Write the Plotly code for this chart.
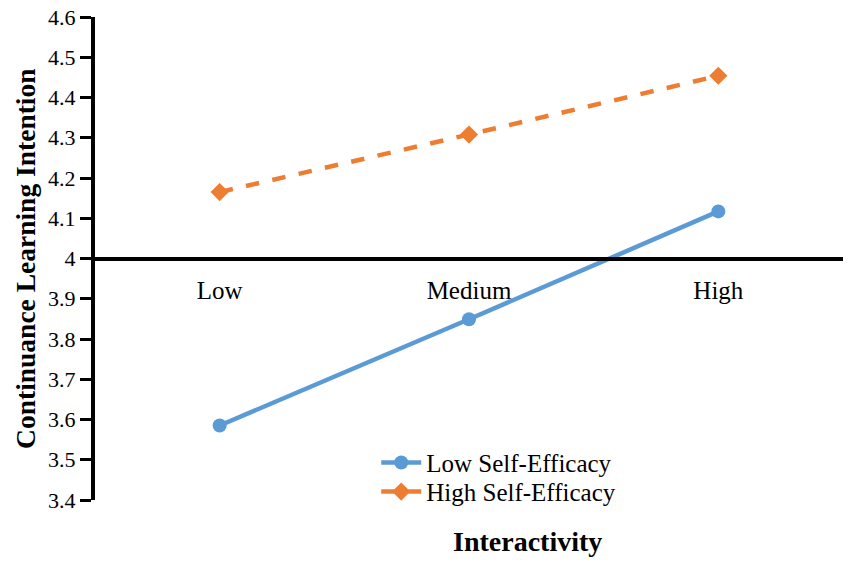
import plotly.graph_objects as go

categories = ["Low", "Medium", "High"]
low_se = [3.585, 3.849, 4.117]
high_se = [4.165, 4.308, 4.454]
series_names = ["Low Self-Efficacy", "High Self-Efficacy"]
y_ticks = [3.4, 3.5, 3.6, 3.7, 3.8, 3.9, 4.0, 4.1, 4.2, 4.3, 4.4, 4.5, 4.6]
y_tick_labels = ["3.4", "3.5", "3.6", "3.7", "3.8", "3.9", "4", "4.1", "4.2", "4.3", "4.4", "4.5", "4.6"]

FONT = "Liberation Serif, Times New Roman, serif"

fig = go.Figure()
fig.add_trace(go.Scatter(
    x=categories, y=low_se, name=series_names[0], mode="lines+markers",
    line=dict(color="#5B9BD5", width=4.5),
    marker=dict(symbol="circle", size=14, color="#5B9BD5"),
    legend="legend",
))
fig.add_trace(go.Scatter(
    x=categories, y=high_se, name=series_names[1], mode="lines+markers",
    line=dict(color="#ED7D31", width=4.5, dash="dash"),
    marker=dict(symbol="diamond", size=14, color="#ED7D31"),
    legend="legend2",
))

legend_common = dict(
    xanchor="left", yanchor="middle", bgcolor="rgba(0,0,0,0)",
    font=dict(family=FONT, size=25, color="black"), itemwidth=40,
)

fig.update_layout(
    width=851, height=566,
    margin=dict(l=87, r=16, t=9, b=74, autoexpand=False),
    paper_bgcolor="white", plot_bgcolor="white",
    font=dict(family=FONT, size=25, color="black"),
    showlegend=True,
    legend=dict(x=0.376, y=0.077, **legend_common),
    legend2=dict(x=0.376, y=0.017, **legend_common),
    xaxis=dict(
        type="category", anchor="free", position=0.5, automargin=False,
        showline=True, linecolor="black", linewidth=3.5,
        ticks="", showgrid=False, zeroline=False,
        tickfont=dict(family=FONT, size=25, color="black"),
        range=[-0.5, 2.5], ticklabelstandoff=9,
    ),
    yaxis=dict(
        range=[3.4, 4.6], tickvals=y_ticks, ticktext=y_tick_labels, automargin=False,
        showline=True, linecolor="black", linewidth=4,
        ticks="outside", ticklen=11, tickwidth=3, tickcolor="black",
        showgrid=False, zeroline=False, ticklabeloverflow="allow",
        tickfont=dict(family=FONT, size=22, color="black"),
    ),
    annotations=[
        dict(text="<b>Interactivity</b>", xref="paper", yref="paper",
             x=0.578, y=-0.085, xanchor="center", yanchor="middle",
             showarrow=False, font=dict(family=FONT, size=28, color="black")),
        dict(text="<b>Continuance Learning Intention</b>", xref="paper", yref="paper",
             x=-0.093, y=0.5, xanchor="center", yanchor="middle", textangle=-90,
             showarrow=False, font=dict(family=FONT, size=27.5, color="black")),
    ],
)

fig.write_html("out.html")
